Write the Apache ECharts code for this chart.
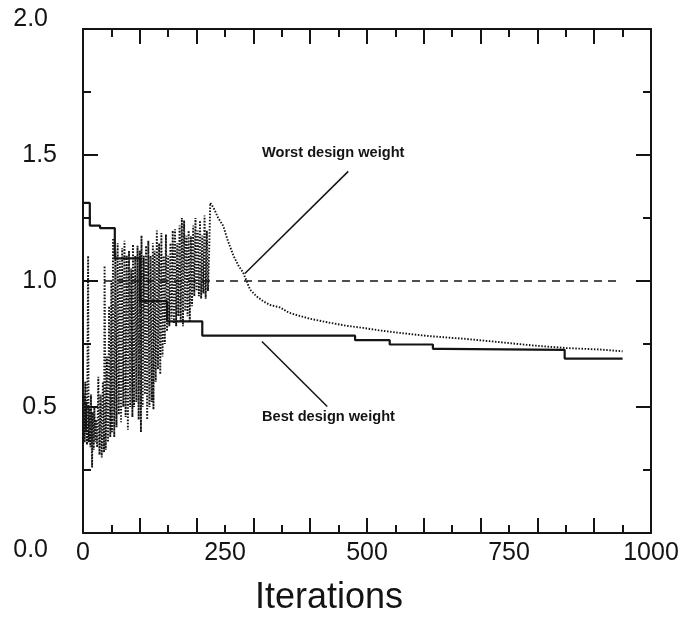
<!DOCTYPE html>
<html>
<head>
<meta charset="utf-8">
<script src="https://cdn.jsdelivr.net/npm/echarts@6/dist/echarts.min.js"></script>
<style>html,body{margin:0;padding:0;background:#fff}#c{width:691px;height:619px}</style>
</head>
<body>
<div id="c"></div>
<script>
// ---- data ----
var xTickLabels = [0, 250, 500, 750, 1000];
var yTickLabels = [0.0, 0.5, 1.0, 1.5, 2.0];

// best design weight (step line)
var bestDesign = [[0,1.31],[12,1.31],[12,1.22],[30,1.22],[30,1.21],[56,1.21],[56,1.09],[100,1.09],[100,0.92],[148,0.92],[148,0.84],[210,0.84],[210,0.783],[479,0.783],[479,0.765],[540,0.765],[540,0.748],[616,0.748],[616,0.731],[634,0.731],[634,0.727],[848,0.727],[848,0.692],[950,0.692]];

// worst design weight (dotted)
var worstDesign = [[0,0.58],[1,0.38],[2,0.55],[3,0.36],[4,0.6],[5,0.4],[6,0.52],[7,0.35],[9,1.10],[10,0.36],[11,0.5],[13,0.34],[14,0.55],[16,0.26],[17,0.48],[19,0.33],[20,0.5],[22,0.36],[23,0.45],[25,0.34],[27,0.62],[29,0.31],[31,0.55],[33,0.30],[35,0.6],[37,0.32],[38,1.06],[40,0.33],[42,0.7],[44,0.36],[46,0.9],[48,0.38],[50,1.0],[51,0.4],[53,1.17],[55,0.38],[57,1.12],[59,0.42],[61,1.15],[63,0.47],[65,1.08],[67,0.44],[69,1.13],[71,0.5],[73,1.16],[75,0.46],[77,1.1],[79,0.41],[81,1.12],[83,0.5],[85,1.05],[87,0.46],[88,1.145],[90,0.5],[92,1.1],[94,0.52],[96,1.14],[98,0.45],[100,1.12],[102,0.40],[103,1.18],[105,0.5],[107,1.1],[109,0.55],[111,1.14],[113,0.45],[115,1.16],[117,0.5],[119,1.1],[121,0.52],[123,1.15],[124,0.49],[126,1.12],[128,0.6],[130,1.2],[132,0.65],[134,1.15],[136,0.63],[138,1.19],[140,0.7],[142,1.1],[144,0.75],[146,1.185],[148,0.8],[150,1.1],[152,0.82],[154,1.15],[156,0.85],[158,1.2],[160,0.83],[162,1.205],[164,0.82],[166,1.15],[168,0.86],[170,1.22],[172,0.84],[174,1.25],[176,0.82],[178,1.24],[180,0.88],[182,1.18],[184,0.86],[186,1.2],[188,0.84],[190,1.178],[192,0.9],[194,1.22],[196,0.94],[198,1.25],[200,0.96],[202,1.2],[204,0.94],[206,1.24],[208,0.93],[210,1.18],[212,0.95],[214,1.26],[216,0.93],[218,1.2],[220,0.96],[222,1.1],[224,1.31],[230,1.29],[238,1.25],[247,1.218],[255,1.16],[265,1.10],[274,1.06],[282,1.033],[294,0.966],[305,0.94],[317,0.92],[329,0.905],[347,0.895],[362,0.875],[376,0.865],[400,0.85],[435,0.834],[465,0.822],[493,0.814],[525,0.803],[558,0.794],[611,0.781],[675,0.77],[735,0.757],[793,0.744],[851,0.734],[910,0.728],[950,0.721]];

// reference weight line at 1.0
var referenceLine = [[-37,1.0],[943,1.0]];

// annotation leader lines
var worstLeader = [[285,1.03],[467,1.435]];
var bestLeader = [[315,0.76],[430,0.502]];
var worstLabel = 'Worst design weight';
var bestLabel = 'Best design weight';
var xName = 'Iterations';

var INK = '#141414';
var FONT = 'Liberation Sans, Arial, sans-serif';
var chart = echarts.init(document.getElementById('c'), null, {renderer:'canvas'});

function tickAxis(pos){
  return {
    type:'value', position:pos, min:0, max:1000, interval:100,
    axisLine:{show:true, onZero:false, lineStyle:{color:INK, width:2}},
    axisTick:{show:true, inside:true, length:15, lineStyle:{color:INK, width:2}},
    minorTick:{show:true, splitNumber:2, length:8, lineStyle:{color:INK, width:2}},
    axisLabel:{show:false}, splitLine:{show:false}
  };
}

var option = {
  animation:false,
  backgroundColor:'#fff',
  grid:{left:83, right:40, top:29, bottom:86, containLabel:false},
  xAxis:[
    tickAxis('bottom'),
    tickAxis('top'),
    {
      type:'value', position:'bottom', min:0, max:1000, interval:250,
      axisLine:{show:false}, axisTick:{show:false}, splitLine:{show:false},
      axisLabel:{show:true, margin:8, fontSize:25, color:INK, fontFamily:FONT,
        formatter:function(v){ return xTickLabels.indexOf(v) >= 0 ? String(v) : ''; }}
    }
  ],
  yAxis:[
    {
      type:'value', position:'left', min:0, max:2, interval:0.5,
      axisLine:{show:true, onZero:false, lineStyle:{color:INK, width:2}},
      axisTick:{show:true, inside:true, length:15, lineStyle:{color:INK, width:2}},
      minorTick:{show:true, splitNumber:2, length:8, lineStyle:{color:INK, width:2}},
      splitLine:{show:false},
      axisLabel:{show:true, margin:26, fontSize:25, color:INK, fontFamily:FONT,
        formatter:function(v){
          var s = v.toFixed(1);
          if (Math.abs(v) < 1e-9) return '{lo|' + s + '}';
          if (Math.abs(v-2) < 1e-9) return '{hi|' + s + '}';
          return s;
        },
        rich:{
          lo:{fontSize:25, color:INK, fontFamily:FONT, padding:[34,9,0,0]},
          hi:{fontSize:25, color:INK, fontFamily:FONT, padding:[0,9,20,0]}
        }
      }
    },
    {
      type:'value', position:'right', min:0, max:2, interval:0.5,
      axisLine:{show:true, onZero:false, lineStyle:{color:INK, width:2}},
      axisTick:{show:true, inside:true, length:15, lineStyle:{color:INK, width:2}},
      minorTick:{show:true, splitNumber:2, length:8, lineStyle:{color:INK, width:2}},
      splitLine:{show:false}, axisLabel:{show:false}
    }
  ],
  series:[
    {type:'line', name:'reference', data:referenceLine, clip:false, symbol:'none', silent:true,
      lineStyle:{color:INK, width:1.3, type:[8,6]}},
    {type:'line', name:worstLabel, data:worstDesign, symbol:'none', silent:true,
      lineStyle:{color:INK, width:1.9, type:[1.5,1.6]}},
    {type:'line', name:bestLabel, data:bestDesign, symbol:'none', silent:true,
      lineStyle:{color:INK, width:2.2}},
    {type:'line', name:'worstLeader', data:worstLeader, symbol:'none', silent:true,
      lineStyle:{color:INK, width:1.5}},
    {type:'line', name:'bestLeader', data:bestLeader, symbol:'none', silent:true,
      lineStyle:{color:INK, width:1.5}}
  ],
  graphic:[
    {type:'text', left:262, top:145, style:{text:worstLabel, fontSize:14.6, fontWeight:'bold', fill:INK, fontFamily:FONT}},
    {type:'text', left:262, top:409, style:{text:bestLabel, fontSize:14.6, fontWeight:'bold', fill:INK, fontFamily:FONT}},
    {type:'text', left:255, top:580, style:{text:xName, fontSize:36, fill:INK, fontFamily:FONT}}
  ]
};
chart.setOption(option);
</script>
</body>
</html>
